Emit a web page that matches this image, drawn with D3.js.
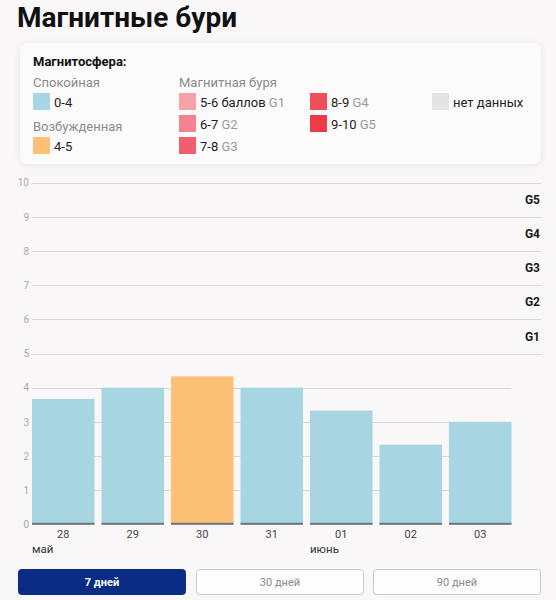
<!DOCTYPE html>
<html>
<head>
<meta charset="utf-8">
<script src="https://cdn.jsdelivr.net/npm/d3@7"></script>
<style>
  html, body { margin: 0; padding: 0; background: #f9f7f8; }
  body { width: 556px; height: 600px; overflow: hidden; font-family: Roboto, "Noto Sans", sans-serif; }
  svg text { font-family: Roboto, "Noto Sans", sans-serif; }
</style>
</head>
<body>
<div id="chart"></div>
<script>
// data
const days = ['28', '29', '30', '31', '01', '02', '03'];
const months = ['май', '', '', '', 'июнь', '', ''];
const kpValues = [3.67, 4, 4.33, 4, 3.33, 2.33, 3];
const yTicks = [0, 1, 2, 3, 4, 5, 6, 7, 8, 9, 10];
const stormLevels = ['G1', 'G2', 'G3', 'G4', 'G5'];
const stormFrom = [5, 6, 7, 8, 9];
const periods = ['7 дней', '30 дней', '90 дней'];

const quietColor = '#a7d5e2';
const excitedColor = '#fdc077';
const stormColors = ['#f7a1a9', '#f5838e', '#f25f6c', '#f04e5b', '#ee3a49'];
const noDataColor = '#e4e4e4';

const W = 556, H = 600;

let svg = d3.select('#chart').append('svg')
  .attr('width', W)
  .attr('height', H)

// title
svg.append('text')
  .attr('x', 17)
  .attr('y', 27)
  .attr('font-size', 28)
  .attr('font-weight', 700)
  .attr('fill', '#111')
  .text('Магнитные бури')

// legend box
let defs = svg.append('defs')
let shadow = defs.append('filter').attr('id', 'sh').attr('x', '-10%').attr('y', '-20%').attr('width', '120%').attr('height', '140%')
shadow.append('feDropShadow').attr('dx', 0).attr('dy', 1).attr('stdDeviation', 3).attr('flood-color', '#000').attr('flood-opacity', 0.08)

svg.append('rect')
  .attr('x', 20).attr('y', 43).attr('width', 521).attr('height', 121)
  .attr('rx', 7)
  .attr('fill', '#fcfbfb')
  .attr('filter', 'url(#sh)')

let legend = svg.append('g').attr('font-size', 13)

legend.append('text')
  .attr('x', 33).attr('y', 66)
  .attr('font-weight', 700).attr('fill', '#111')
  .text('Магнитосфера:')

let sub = [
  {x: 33, y: 87, t: 'Спокойная'},
  {x: 33, y: 131, t: 'Возбужденная'},
  {x: 179, y: 87, t: 'Магнитная буря'}
]
legend.selectAll('text.sub').data(sub).enter().append('text')
  .classed('sub', true)
  .attr('x', d => d.x).attr('y', d => d.y)
  .attr('fill', '#8a8a8a')
  .text(d => d.t)

const legendItems = [
  {x: 33, y: 93, c: quietColor, t: '0-4', g: ''},
  {x: 33, y: 137, c: excitedColor, t: '4-5', g: ''},
  {x: 179, y: 93, c: stormColors[0], t: '5-6 баллов ', g: 'G1'},
  {x: 179, y: 115, c: stormColors[1], t: '6-7 ', g: 'G2'},
  {x: 179, y: 137, c: stormColors[2], t: '7-8 ', g: 'G3'},
  {x: 310, y: 93, c: stormColors[3], t: '8-9 ', g: 'G4'},
  {x: 310, y: 115, c: stormColors[4], t: '9-10 ', g: 'G5'},
  {x: 432, y: 93, c: noDataColor, t: 'нет данных', g: ''}
]
let li = legend.selectAll('g.item').data(legendItems).enter().append('g')
  .classed('item', true)
  .attr('transform', d => `translate(${d.x},${d.y})`)
li.append('rect').attr('width', 17).attr('height', 17).attr('fill', d => d.c)
let lt = li.append('text').attr('x', 21).attr('y', 14).attr('fill', '#222')
lt.append('tspan').text(d => d.t)
lt.append('tspan').attr('fill', '#9a9a9a').text(d => d.g)

// chart
const left = 32, right = 511.5, rightWide = 541.5;
let y = d3.scaleLinear().domain([0, 10]).range([524.3, 182.7])
let x = d3.scaleBand().domain(days).range([left, right]).paddingInner(0.1)

let grid = svg.append('g')
grid.selectAll('line').data(yTicks.filter(d => d > 0)).enter().append('line')
  .attr('x1', left)
  .attr('x2', d => d >= 5 ? rightWide : right)
  .attr('y1', d => Math.round(y(d)) + 0.5)
  .attr('y2', d => Math.round(y(d)) + 0.5)
  .attr('stroke', '#d9d8d9')
  .attr('stroke-width', 1)

let yAxis = svg.append('g')
  .attr('transform', `translate(${left},0)`)
  .call(d3.axisLeft(y).tickValues(yTicks).tickSize(0).tickPadding(3))
yAxis.select('.domain').remove()
yAxis.selectAll('text').attr('font-size', 10).attr('fill', '#a9a9a9')

// storm level labels
svg.selectAll('text.glevel').data(stormLevels).enter().append('text')
  .classed('glevel', true)
  .attr('x', 540)
  .attr('y', (d, i) => y(stormFrom[i] + 0.5))
  .attr('dy', '0.35em')
  .attr('text-anchor', 'end')
  .attr('font-size', 12)
  .attr('font-weight', 700)
  .attr('fill', '#1a1a1a')
  .text(d => d)

let colorFor = v => {
  if (v <= 4) return quietColor;
  if (v <= 5) return excitedColor;
  return stormColors[Math.min(4, Math.floor(v) - 5)];
}

let bars = svg.append('g')
bars.selectAll('rect.bar').data(kpValues).enter().append('rect')
  .classed('bar', true)
  .attr('x', (d, i) => x(days[i]))
  .attr('y', d => y(d))
  .attr('width', x.bandwidth())
  .attr('height', d => y(0) - y(d))
  .attr('fill', d => colorFor(d))

bars.selectAll('rect.base').data(kpValues).enter().append('rect')
  .classed('base', true)
  .attr('x', (d, i) => x(days[i]))
  .attr('y', y(0) - 1.5)
  .attr('width', x.bandwidth())
  .attr('height', 2)
  .attr('fill', '#6a767a')

let xAxis = svg.append('g')
  .attr('transform', `translate(0,${y(0)})`)
  .call(d3.axisBottom(x).tickSize(0).tickPadding(6))
xAxis.select('.domain').remove()
xAxis.selectAll('text').attr('font-size', 11).attr('fill', '#444')

svg.selectAll('text.month').data(months).enter().append('text')
  .classed('month', true)
  .attr('x', (d, i) => x(days[i]))
  .attr('y', 553)
  .attr('font-size', 11.5)
  .attr('fill', '#333')
  .text(d => d)

// period buttons
const btnX = [18, 196, 373];
let btn = svg.selectAll('g.btn').data(periods).enter().append('g')
  .classed('btn', true)
  .attr('transform', (d, i) => `translate(${btnX[i]},569)`)
btn.append('rect')
  .attr('x', 0.5).attr('y', 0.5)
  .attr('width', 167).attr('height', 25)
  .attr('rx', 3)
  .attr('fill', (d, i) => i === 0 ? '#0a2c85' : '#fdfdfd')
  .attr('stroke', (d, i) => i === 0 ? '#0a2c85' : '#c9c9c9')
btn.append('text')
  .attr('x', 84).attr('y', 13)
  .attr('dy', '0.35em')
  .attr('text-anchor', 'middle')
  .attr('font-size', 11)
  .attr('font-weight', (d, i) => i === 0 ? 700 : 400)
  .attr('fill', (d, i) => i === 0 ? '#fff' : '#8a8a8a')
  .text(d => d)
</script>
</body>
</html>
